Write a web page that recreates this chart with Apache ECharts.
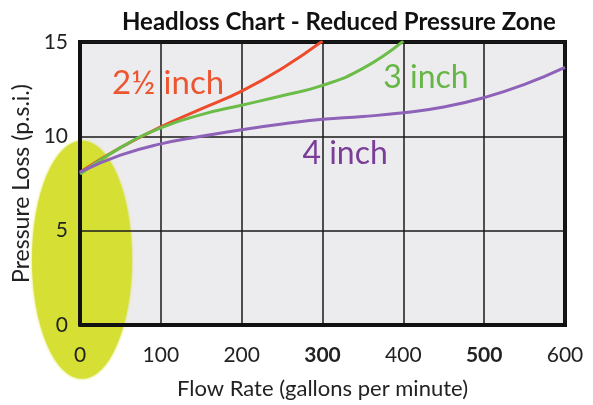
<!DOCTYPE html>
<html>
<head>
<meta charset="utf-8">
<script src="https://cdn.jsdelivr.net/npm/echarts@6/dist/echarts.min.js"></script>
<style>
  html, body { margin: 0; padding: 0; background: #fff; }
  #chart { width: 593px; height: 405px; }
</style>
</head>
<body>
<div id="chart"></div>
<script>
// Flow rate (gallons per minute) sampled every 50 gpm
const flowRate = [0, 50, 100, 150, 200, 250, 300, 350, 400, 450, 500, 550, 600]

// Pressure loss (p.s.i.) per pipe size
const loss25 = [8.1, 9.4, 10.5, 11.45, 12.4, 13.6, 15.05]
const loss3 = [8.0, 9.4, 10.45, 11.15, 11.65, 12.15, 12.7, 13.6, 15.05]
const loss4 = [8.1, 9.0, 9.6, 10.0, 10.35, 10.65, 10.9, 11.05, 11.25, 11.55, 12.05, 12.75, 13.65]

const seriesNames = ['2½ inch', '3 inch', '4 inch']
const seriesColors = ['#ee4b2b', '#6cbd48', '#8e62b8']
const labelColors = ['#ec5530', '#66b646', '#7a3d98']
// where each size label sits, in chart units [gpm, psi]
const labelPoints = [[109, 12.8], [428, 13.1], [328, 9.07]]

// highlighted zone (yellow ellipse) centre in chart units
const highlightPoint = [2.5, 3.46]

const boldTicks = [300, 500]

const font = 'Lato, "Open Sans", sans-serif'

const pairs = (ys) => ys.map((y, i) => [flowRate[i], y])

const chart = echarts.init(document.getElementById('chart'))

const lineSeries = [loss25, loss3, loss4].map((ys, i) => ({
  name: seriesNames[i],
  type: 'line',
  data: pairs(ys),
  smooth: true,
  symbol: 'none',
  z: 3,
  lineStyle: { color: seriesColors[i], width: 3 },
}))

chart.setOption({
  animation: false,
  backgroundColor: '#fff',
  title: {
    text: 'Headloss Chart - Reduced Pressure Zone',
    left: 117,
    top: 5,
    textStyle: { fontFamily: font, fontSize: 24, fontWeight: 'bold', color: '#111' },
  },
  grid: {
    show: true,
    left: 80,
    right: 28,
    top: 42,
    bottom: 77,
    z: -2,
    backgroundColor: '#ececef',
    borderColor: '#111',
    borderWidth: 4,
  },
  xAxis: {
    type: 'value',
    min: 0,
    max: 600,
    interval: 100,
    name: 'Flow Rate (gallons per minute)',
    nameLocation: 'middle',
    nameGap: 53,
    nameTextStyle: { fontFamily: font, fontSize: 22, color: '#222' },
    axisLine: { show: true, lineStyle: { color: '#111', width: 4 } },
    axisTick: { show: false },
    axisLabel: {
      margin: 20,
      fontFamily: font,
      fontSize: 21,
      color: '#222',
      formatter: (v) => (boldTicks.includes(v) ? '{b|' + v + '}' : String(v)),
      rich: { b: { fontFamily: font, fontSize: 21, fontWeight: 'bold', color: '#222' } },
    },
    splitLine: { show: true, lineStyle: { color: '#1a1a1a', width: 1.5 } },
  },
  yAxis: {
    type: 'value',
    min: 0,
    max: 15,
    interval: 5,
    name: 'Pressure Loss (p.s.i.)',
    nameLocation: 'middle',
    nameGap: 44,
    nameTextStyle: { fontFamily: font, fontSize: 23, color: '#222' },
    axisLine: { show: true, lineStyle: { color: '#111', width: 4 } },
    axisTick: { show: false },
    axisLabel: { margin: 12, fontFamily: font, fontSize: 21, color: '#222' },
    splitLine: { show: true, lineStyle: { color: '#1a1a1a', width: 1.5 } },
  },
  series: [
    {
      name: 'highlight',
      type: 'scatter',
      z: -1,
      silent: true,
      clip: false,
      data: [highlightPoint],
      symbol: 'circle',
      symbolSize: [100, 238],
      itemStyle: { color: '#d6e034', opacity: 1, shadowBlur: 3, shadowColor: '#d6e034' },
    },
    {
      name: 'labels',
      type: 'scatter',
      z: -0.5,
      silent: true,
      symbolSize: 0,
      itemStyle: { opacity: 1 },
      data: labelPoints.map((p, i) => ({
        value: p,
        label: {
          show: true,
          position: 'inside',
          formatter: seriesNames[i],
          fontFamily: font,
          fontSize: i === 0 ? 33 : 32,
          color: labelColors[i],
        },
      })),
    },
    ...lineSeries,
  ],
})
</script>
</body>
</html>
